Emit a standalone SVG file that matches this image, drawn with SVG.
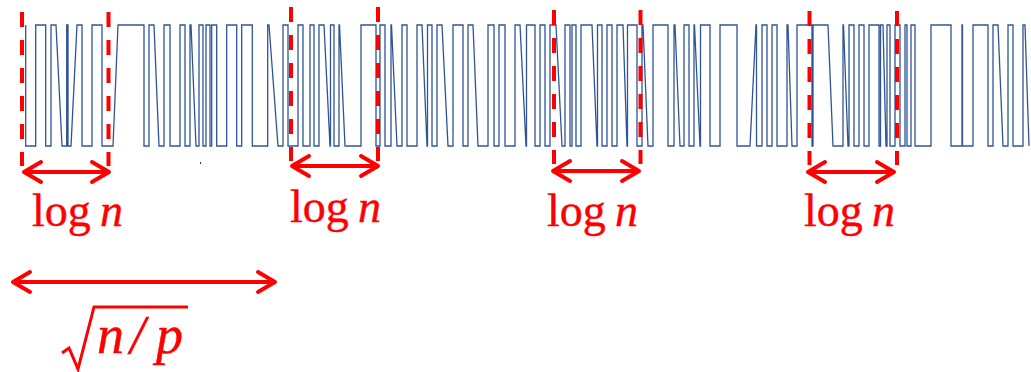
<svg xmlns="http://www.w3.org/2000/svg" width="1031" height="372" viewBox="0 0 1031 372">
<style>
.wave{fill:none;stroke:#2f5597;stroke-width:1.3;stroke-linejoin:miter}
.dash{stroke:#ff0000;stroke-width:4;stroke-dasharray:15 13;fill:none}
.arr{stroke:#ff0000;stroke-width:4;fill:none;marker-start:url(#chev);marker-end:url(#chev)}
.lbl{font-family:"Liberation Serif","Times New Roman",serif;font-size:46px;fill:#ff0000;stroke:#ff0000;stroke-width:0.4}
.it{font-style:italic}
</style>
<defs>
<marker id="chev" viewBox="-20 -13 24 26" refX="0" refY="0" markerWidth="24" markerHeight="26" markerUnits="userSpaceOnUse" orient="auto-start-reverse">
<path d="M-17,-10 L0,0 L-17,10" fill="none" stroke="#ff0000" stroke-width="4" stroke-linecap="round" stroke-linejoin="round"/>
</marker>
</defs>
<rect width="1031" height="372" fill="#ffffff"/>
<g id="waveform">
<path class="wave" d="M25.7,25 V146 H35.7 V25 H45.7 V146 H51 V25 H56 L62,146 H66.7 V25 H68 V146 H71 L77,25 H82 V146 H92 V25 H102 V146 H113 L118,25 H144 V146 H149 V25 H154 L159,146 H164 V25 H170 V146 H180 V25 H185 V146 H190 V25 H191 L196,146 H199 V25 H203 V146 H206 V25 H210 V146 H211.7 V25 H216.7 V146 H226.7 V25 H236.7 V146 H241.7 V25 H252.3 V146 H267.7 V25 H269 L278,146 H283 V25 H288 V146 H298 V25 H303 V146 H310 V25 H314 V146 H319 V25 H324 L330,146 H330.5 V25 H334 V146 H339 V25 H339.5 L345,146 H361 V25 H376 V146 H380 V25 H385 V146 H391 V25 H391.5 L397,146 H402 V25 H407 V146 H417 V25 H422 L427,146 H427.5 V25 H432 V146 H437 V25 H442 L448,146 H453 V25 H463 V146 H468 V25 H473 L478,146 H488 V25 H494 V146 H499 V25 H505 V146 H515 V25 H520 L526,146 H526.5 V25 H535 V146 H540 V25 H545 V146 H550 V25 H556 L562,146 H565 V25 H570 V146 H572 V25 H576 V146 H581 V25 H592 L597,146 H597.5 V25 H602 V146 H607 V25 H612 V146 H617 V25 H623 L627,146 H627.5 V25 H637 V146 H642 V25 H643 L648,146 H653 V25 H668 V146 H674 V25 H675 L680,146 H684 V25 H689 V146 H694 V25 H694.5 L700,146 H700.5 V25 H710 V146 H720 V25 H737 V146 H750 L756,25 H756.5 V146 H762 V25 H767 V146 H772 V25 H777 V146 H787 V25 H788 L792,146 H797 V25 H812 V146 H813 V25 H828 L833,146 H843 V25 H843.5 L848,146 H849 V25 H854 V146 H859 V25 H864 V146 H869 V25 H879 V146 H880.5 V25 H883 L886,146 H887 V25 H890 V146 H895 V25 H900 V146 H905 V25 H907 V146 H911 V25 H915 V146 H931 V25 H951 V146 H962 V25 H962.5 V146 H973 V25 H988 V146 H993 V25 H998 L1003,146 H1008 V25 H1013 V146 H1023 V25 H1025 L1029,146"/>
<rect x="200" y="162" width="1" height="2" fill="#333333"/>
</g>
<g id="markers">
<line class="dash" x1="22" y1="12" x2="22" y2="166"/>
<line class="dash" x1="108.5" y1="12" x2="108.5" y2="166"/>
<line class="dash" x1="291" y1="7" x2="291" y2="161"/>
<line class="dash" x1="378" y1="7" x2="378" y2="161"/>
<line class="dash" x1="554" y1="10" x2="554" y2="164"/>
<line class="dash" x1="640.5" y1="10" x2="640.5" y2="164"/>
<line class="dash" x1="809.5" y1="11" x2="809.5" y2="165"/>
<line class="dash" x1="897" y1="11" x2="897" y2="165"/>
</g>
<g id="connectors">
<line class="arr" x1="24" y1="172" x2="109" y2="172"/>
<line class="arr" x1="292" y1="166" x2="378" y2="166"/>
<line class="arr" x1="553" y1="171" x2="639" y2="171"/>
<line class="arr" x1="808" y1="172" x2="894" y2="172"/>
<line class="arr" x1="13" y1="282" x2="275" y2="282"/>
</g>
<g id="label-log1"><text class="lbl" x="32" y="226">log<tspan class="it" x="100">n</tspan></text></g>
<g id="label-log2"><text class="lbl" x="290" y="222">log<tspan class="it" x="358">n</tspan></text></g>
<g id="label-log3"><text class="lbl" x="547" y="226">log<tspan class="it" x="615">n</tspan></text></g>
<g id="label-log4"><text class="lbl" x="804" y="226">log<tspan class="it" x="872">n</tspan></text></g>
<g id="label-sqrt">
<path d="M62,353 L69,348 L78,369 L94,307 H188" fill="none" stroke="#ff0000" stroke-width="3" stroke-linejoin="miter"/>
<text class="lbl it" style="font-size:54px" y="353"><tspan x="97">n</tspan><tspan x="130">/</tspan><tspan x="156">p</tspan></text>
</g>
</svg>
